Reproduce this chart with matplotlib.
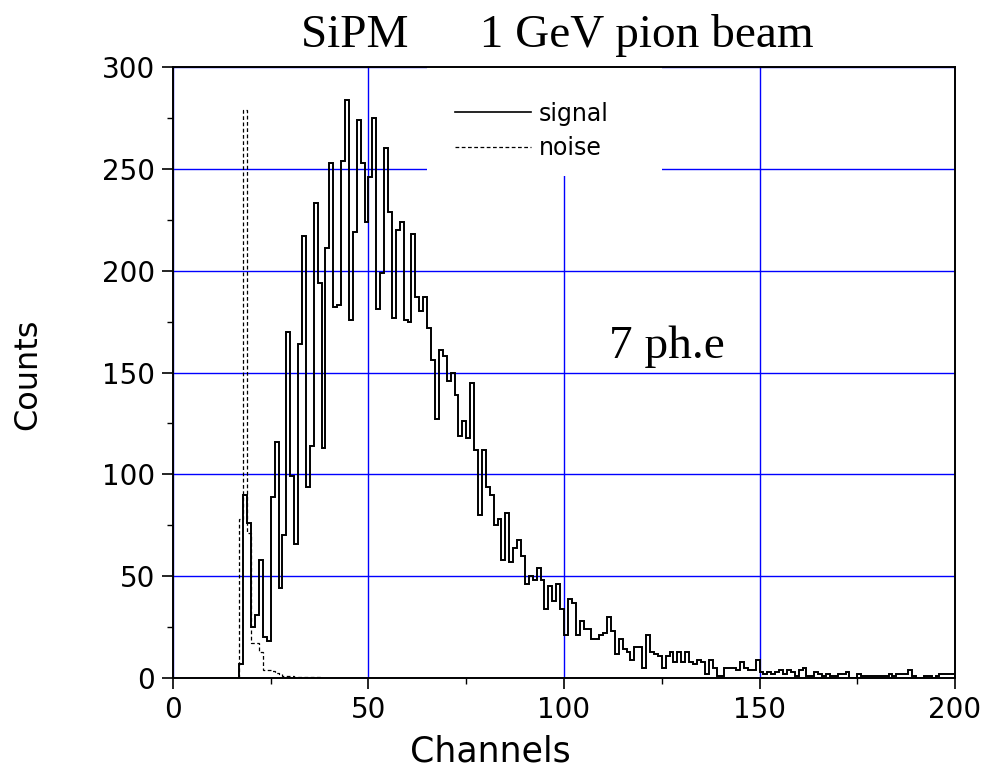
import numpy as np
import matplotlib.pyplot as plt
from matplotlib.lines import Line2D
from matplotlib.patches import Rectangle

# signal histogram, one bin per channel starting at channel 17
signal_start = 17
signal_counts = [
    7, 90, 76, 25, 31, 58, 20, 18, 89, 116, 44, 70, 170, 99, 66, 164, 217, 94,
    114, 233, 194, 113, 211, 253, 182, 183, 254, 284, 176, 219, 274, 253, 224,
    246, 275, 181, 199, 260, 229, 177, 220, 224, 176, 175, 218, 187, 180, 187,
    172, 156, 127, 161, 158, 146, 150, 139, 119, 126, 118, 145, 112, 80, 112,
    94, 90, 75, 78, 58, 81, 57, 64, 68, 60, 46, 50, 48, 54, 48, 34, 45, 38, 46,
    34, 21, 39, 37, 21, 28, 24, 24, 19, 19, 21, 22, 30, 23, 12, 19, 14, 13, 9,
    15, 15, 5, 21, 13, 12, 11, 5, 11, 13, 8, 13, 8, 13, 8, 7, 9, 8, 2, 9, 5, 1,
    1, 5, 5, 5, 4, 8, 5, 4, 4, 9, 3, 2, 3, 2, 3, 4, 2, 4, 3, 1, 4, 5, 1, 1, 3,
    2, 1, 2, 1, 1, 2, 2, 3, 0, 0, 2, 1, 1, 1, 1, 1, 1, 1, 2, 1, 2, 2, 2, 4, 1,
    0, 0, 1, 1, 0, 1, 2, 2, 2, 2,
]

# noise (pedestal) histogram
noise_start = 17
noise_counts = [78, 279, 71, 17, 17, 13, 4, 4, 3.5, 2.5, 2, 1.2, 0.8, 0.8,
                0.5, 0.5, 0.5, 0.5, 0.5, 0.5, 0.5]

x_ticks = [0, 50, 100, 150, 200]
y_ticks = [0, 50, 100, 150, 200, 250, 300]

sig_edges = np.arange(signal_start, signal_start + len(signal_counts) + 1)
noise_edges = np.arange(noise_start, noise_start + len(noise_counts) + 1)

fig = plt.figure(figsize=(9.9, 7.82), dpi=100)
ax = fig.add_axes([0.1747, 0.133, 0.79, 0.7813])

ax.set_axisbelow(True)
ax.grid(True, which='major', color='#0000ff', lw=1.0)

ax.stairs(noise_counts, noise_edges, color='black', lw=0.9,
          linestyle=(0, (3, 2)), zorder=2)
ax.stairs(signal_counts, sig_edges, color='black', lw=1.4, zorder=3)

ax.set_xlim(0, 200)
ax.set_ylim(0, 300)
ax.set_xticks(x_ticks)
ax.set_yticks(y_ticks)
ax.set_xticks(np.arange(25, 200, 50), minor=True)
ax.set_yticks(np.arange(25, 300, 50), minor=True)
ax.tick_params(which='major', direction='out', length=8, width=1.2,
               labelsize=20, pad=5)
ax.tick_params(which='minor', direction='out', length=4, width=1.0)
for s in ax.spines.values():
    s.set_linewidth(1.4)

# white patch behind the legend hides the grid there
ax.add_patch(Rectangle((0.325, 0.8216), 0.3, 0.1784, transform=ax.transAxes,
                       facecolor='white', edgecolor='none', zorder=1))
handles = [Line2D([], [], color='black', lw=1.2),
           Line2D([], [], color='black', lw=0.9, linestyle=(0, (3, 2)))]
ax.legend(handles, ['signal', 'noise'], loc='center left',
          bbox_to_anchor=(0.3606, 0.8953), frameon=False, fontsize=17,
          handlelength=3.2, handletextpad=0.35, labelspacing=0.45,
          borderpad=0, borderaxespad=0)

ax.text(111.5, 157, '7 ph.e', fontsize=34, family='Liberation Serif',
        ha='left', va='baseline')

fig.text(557 / 990, 1 - 47 / 782, 'SiPM      1 GeV pion beam', fontsize=34,
         family='Liberation Serif', ha='center', va='baseline')
fig.text(490 / 990, 1 - 752 / 782, 'Channels', fontsize=25,
         ha='center', va='center')
fig.text(28 / 990, 1 - 374 / 782, 'Counts', fontsize=23, rotation=90,
         ha='center', va='center')

fig.savefig('out.png', dpi=100)
